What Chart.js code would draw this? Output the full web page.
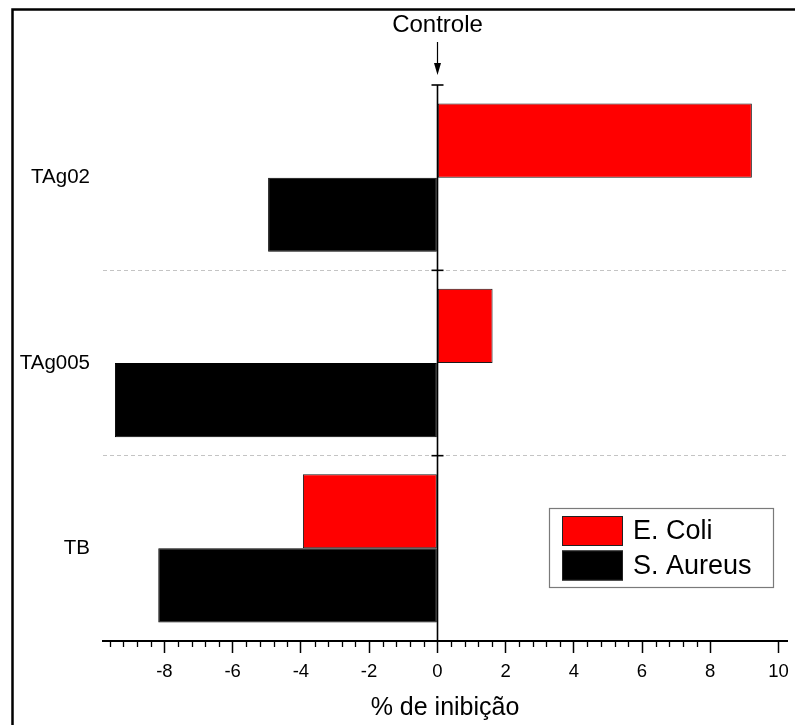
<!DOCTYPE html>
<html>
<head>
<meta charset="utf-8">
<script src="https://cdn.jsdelivr.net/npm/chart.js@4"></script>
<style>
  html, body { margin: 0; padding: 0; background: #fff; }
  #wrap { position: relative; width: 795px; height: 725px; }
</style>
</head>
<body>
<div id="wrap"><canvas id="c" width="795" height="725"></canvas></div>
<script>
// Inhibition (%) per sample, for each bacterium
const categories = ['TAg02', 'TAg005', 'TB'];
const seriesNames = ['E. Coli', 'S. Aureus'];
const ecoliValues = [9.22, 1.62, -3.94];
const saureusValues = [-4.96, -9.45, -8.18];
const xTickValues = [-8, -6, -4, -2, 0, 2, 4, 6, 8, 10];
const xMinorStep = 0.4;
const controlLabel = 'Controle';
const xAxisTitle = '% de inibição';

const FONT = "'Liberation Sans', Arial, Helvetica, sans-serif";

// Outer frame of the figure
const framePlugin = {
  id: 'frame',
  beforeDraw(chart) {
    const ctx = chart.ctx;
    ctx.save();
    ctx.fillStyle = '#fff';
    ctx.fillRect(0, 0, chart.width, chart.height);
    ctx.strokeStyle = '#000';
    ctx.lineWidth = 2.5;
    ctx.beginPath();
    ctx.moveTo(12.5, chart.height + 5);
    ctx.lineTo(12.5, 9.5);
    ctx.lineTo(chart.width + 5, 9.5);
    ctx.stroke();
    ctx.restore();
  }
};

// Zero line with its band ticks, minor x ticks, control marker and boxed legend
const decorPlugin = {
  id: 'decor',
  afterDatasetsDraw(chart) {
    const ctx = chart.ctx;
    const xs = chart.scales.x, ys = chart.scales.y;
    const ca = chart.chartArea;
    const x0 = Math.round(xs.getPixelForValue(0)) + 0.5;
    ctx.save();

    // vertical zero line
    ctx.strokeStyle = '#000';
    ctx.lineWidth = 1.6;
    ctx.beginPath();
    ctx.moveTo(x0, ca.top);
    ctx.lineTo(x0, ca.bottom);
    ctx.stroke();

    // ticks on the zero line at category band boundaries
    const half = (ys.getPixelForValue(1) - ys.getPixelForValue(0)) / 2;
    ctx.lineWidth = 1.6;
    for (let i = 0; i < categories.length; i++) {
      const yb = ys.getPixelForValue(i) - half;
      ctx.beginPath();
      ctx.moveTo(x0 - 6, yb);
      ctx.lineTo(x0 + 6, yb);
      ctx.stroke();
    }

    // minor ticks on the x axis
    ctx.lineWidth = 1.3;
    const first = xTickValues[0], last = xTickValues[xTickValues.length - 1];
    for (let k = -20; k <= 40; k++) {
      const v = first + k * xMinorStep;
      if (v < xs.min - 1e-9 || v > last + 1e-9) continue;
      const isMajor = Math.abs(v / 2 - Math.round(v / 2)) < 1e-6;
      if (isMajor) continue;
      const px = Math.round(xs.getPixelForValue(v)) + 0.5;
      ctx.beginPath();
      ctx.moveTo(px, ca.bottom);
      ctx.lineTo(px, ca.bottom + 6);
      ctx.stroke();
    }

    // control marker
    ctx.fillStyle = '#000';
    ctx.font = '24px ' + FONT;
    ctx.textAlign = 'center';
    ctx.textBaseline = 'alphabetic';
    ctx.fillText(controlLabel, x0, ca.top - 53);
    ctx.lineWidth = 1.2;
    ctx.beginPath();
    ctx.moveTo(x0, ca.top - 43);
    ctx.lineTo(x0, ca.top - 18);
    ctx.stroke();
    ctx.beginPath();
    ctx.moveTo(x0 - 3.5, ca.top - 22);
    ctx.lineTo(x0 + 3.5, ca.top - 22);
    ctx.lineTo(x0, ca.top - 10);
    ctx.closePath();
    ctx.fill();

    // legend box
    const bw = 224, bh = 79;
    const bx = ca.right - 14 - bw, by = ca.bottom - 54 - bh;
    ctx.fillStyle = '#fff';
    ctx.fillRect(bx, by, bw, bh);
    ctx.strokeStyle = '#7a7a7a';
    ctx.lineWidth = 1.2;
    ctx.strokeRect(bx + 0.5, by + 0.5, bw, bh);
    chart.data.datasets.forEach((ds, i) => {
      const sy = by + 8 + i * 34.5;
      ctx.fillStyle = ds.backgroundColor;
      ctx.fillRect(bx + 13, sy, 61, 30);
      ctx.strokeStyle = '#222';
      ctx.lineWidth = 1;
      ctx.strokeRect(bx + 13.5, sy + 0.5, 60, 29);
      ctx.fillStyle = '#000';
      ctx.font = '27px ' + FONT;
      ctx.textAlign = 'left';
      ctx.textBaseline = 'middle';
      ctx.fillText(ds.label, bx + 84, sy + 16);
    });

    ctx.restore();
  }
};

new Chart(document.getElementById('c'), {
  type: 'bar',
  data: {
    labels: categories,
    datasets: [
      { label: seriesNames[0], data: ecoliValues, backgroundColor: '#ff0000', borderColor: '#1a1a1a', borderWidth: 1, borderSkipped: false },
      { label: seriesNames[1], data: saureusValues, backgroundColor: '#000000', borderColor: '#000000', borderWidth: 1, borderSkipped: false }
    ]
  },
  options: {
    indexAxis: 'y',
    responsive: false,
    animation: false,
    events: [],
    categoryPercentage: 0.8,
    barPercentage: 1.0,
    layout: { padding: { top: 85, right: 8, bottom: 0, left: 0 } },
    plugins: { legend: { display: false }, tooltip: { enabled: false } },
    scales: {
      x: {
        type: 'linear',
        min: -9.8,
        max: 10.25,
        afterBuildTicks: s => { s.ticks = xTickValues.map(v => ({ value: v })); },
        afterFit: s => { s.height = 84; s.paddingLeft = 0; s.paddingRight = 0; },
        border: { display: true, color: '#000', width: 2 },
        grid: { drawOnChartArea: false, drawTicks: true, tickLength: 12, tickColor: '#000', tickWidth: 1.5 },
        ticks: { color: '#000', font: { family: FONT, size: 18.5 }, padding: 8, maxRotation: 0, autoSkip: false, callback: v => String(v) },
        title: { display: true, text: xAxisTitle, color: '#000', font: { family: FONT, size: 25 }, padding: { top: 4, bottom: 2 } }
      },
      y: {
        type: 'category',
        offset: true,
        afterFit: s => { s.width = 103; },
        border: { display: false, dash: [4, 3] },
        grid: {
          offset: true,
          drawTicks: false,
          lineWidth: 1,
          color: c => (c.index > 0 && c.index < categories.length) ? '#c4c4c4' : 'rgba(0,0,0,0)'
        },
        ticks: { color: '#000', font: { family: FONT, size: 20.5 }, padding: 13 }
      }
    }
  },
  plugins: [framePlugin, decorPlugin]
});
</script>
</body>
</html>
